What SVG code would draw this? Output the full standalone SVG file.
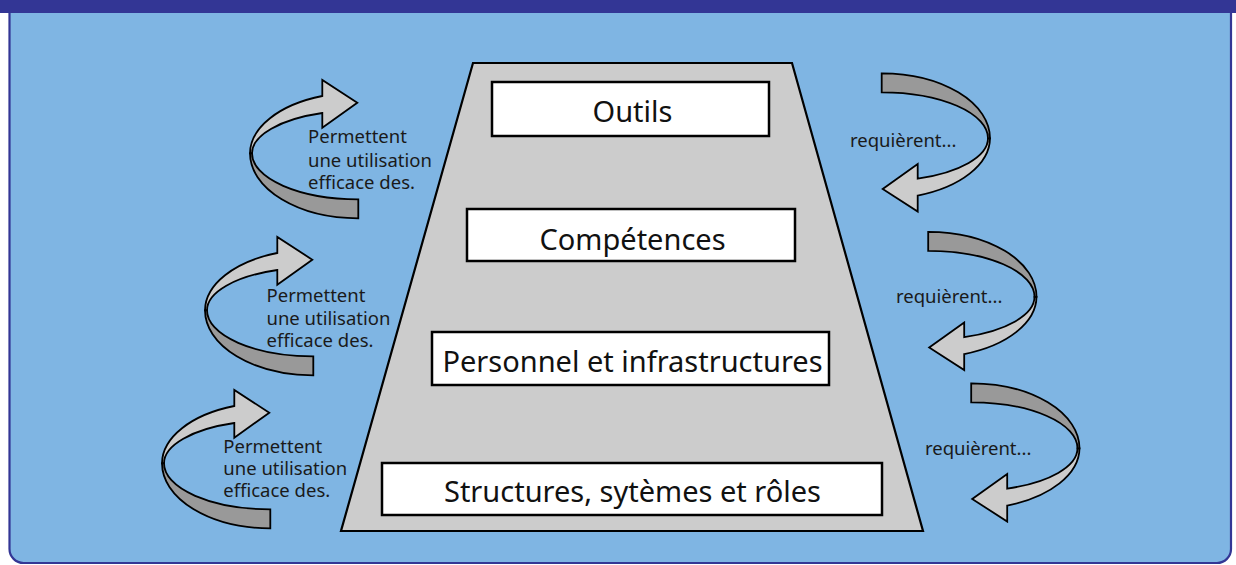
<svg xmlns="http://www.w3.org/2000/svg" xmlns:xlink="http://www.w3.org/1999/xlink" width="1236" height="565" viewBox="0 0 1236 565">
  <style>
    .box { fill: #ffffff; stroke: #000000; stroke-width: 2.5; }
    .box-label { font-family: "Noto Sans", "Open Sans", sans-serif; font-size: 29px; fill: #111111; text-anchor: middle; }
    .note { font-family: "Noto Sans", "Open Sans", sans-serif; font-size: 18.5px; fill: #1a1a1a; }
    .ribbon-top { fill: #cccccc; stroke: #000000; stroke-width: 1.8; stroke-linejoin: miter; }
    .ribbon-under { fill: #999999; stroke: #000000; stroke-width: 1.8; stroke-linejoin: miter; }
  </style>
  <defs>
    <!-- curled ribbon arrow: light upper band with head, dark lower band with tail -->
    <g id="curl">
      <path class="ribbon-top" d="M322.3,96 A108.3,61 0 0 0 250,153.3 L252,153.3 A106.3,42.8 0 0 1 322.3,113 L322.3,127.7 L357.3,102.7 L322.3,80 Z"/>
      <path class="ribbon-under" d="M250,153.3 A108.3,65 0 0 0 358.3,218.3 L358.3,199.3 A106.3,46 0 0 1 252,153.3 Z"/>
    </g>
  </defs>

  <!-- panel -->
  <g id="panel">
    <path d="M9.5,0 V549 A14,14 0 0 0 23.5,563 H1217 A14,14 0 0 0 1231,549 V0 Z" fill="#7fb5e3" stroke="#333695" stroke-width="2.2"/>
    <rect x="0" y="0" width="1236" height="13" fill="#333695"/>
  </g>

  <!-- pyramid -->
  <g id="pyramid">
    <polygon points="473,63 792,63 923,531 341,531" fill="#cccccc" stroke="#000000" stroke-width="2.2"/>
  </g>

  <g id="node-outils">
    <rect class="box" x="492" y="82" width="277" height="54"/>
    <text class="box-label" x="632.5" y="122">Outils</text>
  </g>
  <g id="node-competences">
    <rect class="box" x="467" y="209" width="328" height="52"/>
    <text class="box-label" x="632.5" y="250">Compétences</text>
  </g>
  <g id="node-personnel">
    <rect class="box" x="432" y="332" width="397" height="53"/>
    <text class="box-label" x="632.5" y="372">Personnel et infrastructures</text>
  </g>
  <g id="node-structures">
    <rect class="box" x="382" y="463" width="500" height="52"/>
    <text class="box-label" x="632.5" y="502">Structures, sytèmes et rôles</text>
  </g>

  <!-- curved arrows with their labels -->
  <g id="connectors">
    <g id="up-1">
      <use xlink:href="#curl" href="#curl"/>
      <text class="note"><tspan x="308" y="143">Permettent</tspan><tspan x="308" y="166.5">une utilisation</tspan><tspan x="308" y="189">efficace des.</tspan></text>
    </g>
    <g id="up-2">
      <use xlink:href="#curl" href="#curl" transform="translate(-45,157)"/>
      <text class="note"><tspan x="266.5" y="302.3">Permettent</tspan><tspan x="266.5" y="325">une utilisation</tspan><tspan x="266.5" y="347.3">efficace des.</tspan></text>
    </g>
    <g id="up-3">
      <use xlink:href="#curl" href="#curl" transform="translate(-88,310)"/>
      <text class="note"><tspan x="223.3" y="452.7">Permettent</tspan><tspan x="223.3" y="475">une utilisation</tspan><tspan x="223.3" y="497.3">efficace des.</tspan></text>
    </g>
    <g id="down-1">
      <use xlink:href="#curl" href="#curl" transform="rotate(180 620 145.8)"/>
      <text class="note" x="850" y="147.3">requièrent...</text>
    </g>
    <g id="down-2">
      <use xlink:href="#curl" href="#curl" transform="translate(46.5,158.5) rotate(180 620 145.8)"/>
      <text class="note" x="896" y="303.3">requièrent...</text>
    </g>
    <g id="down-3">
      <use xlink:href="#curl" href="#curl" transform="translate(89.5,310) rotate(180 620 145.8)"/>
      <text class="note" x="925" y="455">requièrent...</text>
    </g>
  </g>
</svg>
